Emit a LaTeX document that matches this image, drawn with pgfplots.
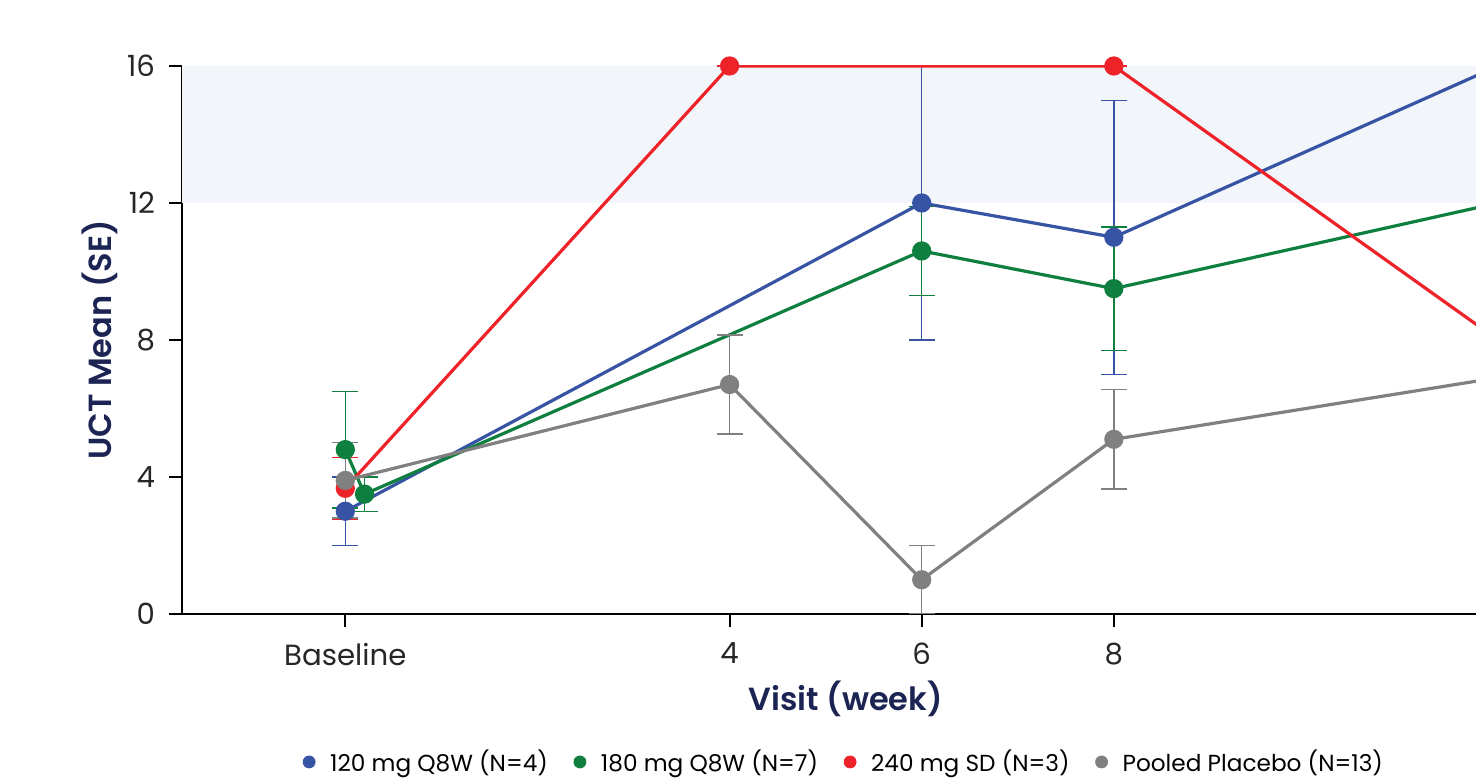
\documentclass[border=0pt]{standalone}
\usepackage{fontspec}
\setmainfont{Poppins}[BoldFont={* SemiBold}]
\usepackage{pgfplots}
\pgfplotsset{compat=1.18}
\definecolor{cblue}{HTML}{3753A4}
\definecolor{cgreen}{HTML}{0F7F3F}
\definecolor{cred}{HTML}{EE2229}
\definecolor{cgray}{HTML}{808080}
\definecolor{cshade}{HTML}{F2F5FA}
\definecolor{navy}{HTML}{1C2453}
\pgfplotsset{
  ser/.style={#1, line width=1.6pt, mark=*, mark size=4pt, mark options={solid}, forget plot,
    error bars/.cd, y dir=both, y explicit,
    error bar style={line width=0.7pt, draw=#1, color=#1},
    error mark options={rotate=90, mark size=6.5pt, line width=0.7pt, draw=#1, color=#1},
    /pgfplots/.cd},
  tail/.style={#1, line width=1.6pt, no marks, forget plot},
}
\begin{document}
\begin{tikzpicture}
\useasboundingbox (-91pt,-83pt) rectangle (647pt,307pt);
\begin{axis}[
  at={(0,0)}, anchor=south west,
  scale only axis, width=647pt, height=274pt,
  xmin=-1.7, xmax=11.77, ymin=0, ymax=16,
  axis x line*=bottom, axis y line*=left,
  axis line style={line width=1pt, black, -},
  xtick={0,4,6,8}, xticklabels={Baseline,4,6,8},
  ytick={0,4,8,12,16},
  tick align=outside, major tick length=6.5pt,
  tick style={line width=1pt, black},
  tick label style={font=\fontsize{14.6}{16}\selectfont, text=black!85},
  xticklabel style={yshift=-4.5pt},
  yticklabel style={xshift=-3.5pt},
  /pgf/number format/assume math mode=true,
  xlabel={Visit (week)}, ylabel={UCT Mean (SE)},
  label style={font=\fontsize{16}{18}\selectfont\bfseries, text=navy},
  xlabel style={at={(axis description cs:0.513,-0.155)}, anchor=center},
  ylabel style={at={(axis description cs:-0.0634,0.5)}, anchor=center},
  legend style={draw=none, fill=none, legend columns=4,
    font=\fontsize{11.6}{13}\selectfont,
    at={(axis description cs:0.5124,-0.270)}, anchor=center,
    /tikz/every odd column/.append style={column sep=5.5pt},
    /tikz/every even column/.append style={column sep=11pt}},
  legend cell align=left,
  clip=true,
]
\fill[cshade] (axis cs:-2,12) rectangle (axis cs:13,16);
% 120 mg Q8W
\addplot[ser=cblue] table[x=x, y=y, y error=e] {
x y e
0 3.0 1.0
6 12.0 4.0
8 11.0 4.0
};
\addplot[tail=cblue] table[x=x, y=y] {
x y
8 11.0
12 16.0
};
% 180 mg Q8W
\addplot[ser=cgreen] table[x=x, y=y, y error=e] {
x y e
0 4.8 1.7
0.2 3.5 0.5
6 10.6 1.3
8 9.5 1.8
};
\addplot[tail=cgreen] table[x=x, y=y] {
x y
8 9.5
12 12.0
};
% 240 mg SD
\addplot[ser=cred] table[x=x, y=y, y error=e] {
x y e
0 3.67 0.9
4 16.0 0
8 16.0 0
};
\addplot[tail=cred] table[x=x, y=y] {
x y
8 16.0
12 8.0
};
% Pooled Placebo
\addplot[ser=cgray] table[x=x, y=y, y error=e] {
x y e
0 3.9 1.1
4 6.7 1.45
6 1.0 1.0
8 5.1 1.45
};
\addplot[tail=cgray] table[x=x, y=y] {
x y
8 5.1
12 6.9
};
\addlegendimage{only marks, mark=*, mark size=3pt, cblue}
\addlegendentry{120 mg Q8W (N=4)}
\addlegendimage{only marks, mark=*, mark size=3pt, cgreen}
\addlegendentry{180 mg Q8W (N=7)}
\addlegendimage{only marks, mark=*, mark size=3pt, cred}
\addlegendentry{240 mg SD (N=3)}
\addlegendimage{only marks, mark=*, mark size=3pt, cgray}
\addlegendentry{Pooled Placebo (N=13)}
\end{axis}
\end{tikzpicture}
\end{document}
